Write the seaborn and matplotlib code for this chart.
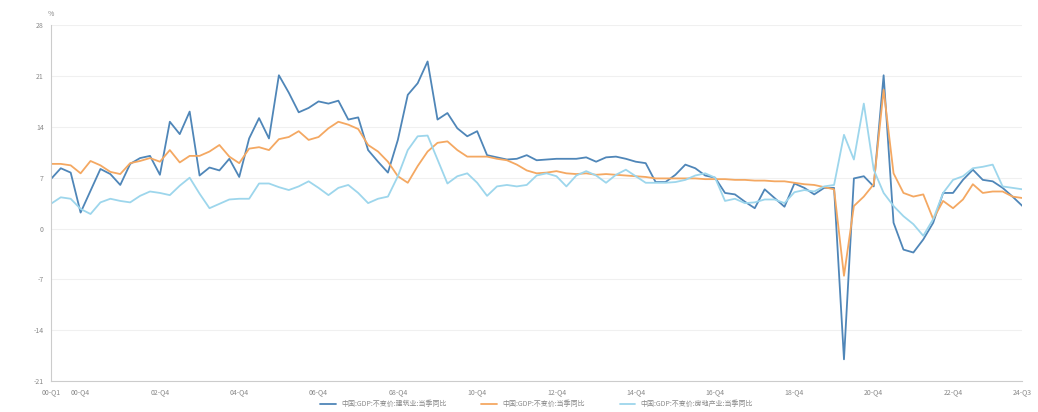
import numpy as np
import pandas as pd
import matplotlib
matplotlib.use('Agg')
import matplotlib.pyplot as plt
import seaborn as sns

# quarters 2000Q1 .. 2024Q3
quarters = ['%02d-Q%d' % (y % 100, q) for y in range(2000, 2025) for q in range(1, 5)][:99]

construction = [6.8, 8.3, 7.7, 2.2, 5.2, 8.2, 7.5, 6.0, 8.9, 9.7,
                10.0, 7.4, 14.7, 13.0, 16.1, 7.3, 8.4, 8.0, 9.6, 7.1,
                12.4, 15.2, 12.4, 21.1, 18.7, 16.0, 16.6, 17.5, 17.2, 17.6,
                15.0, 15.3, 10.8, 9.2, 7.7, 12.2, 18.4, 20.0, 23.0, 15.0,
                15.9, 13.8, 12.7, 13.4, 10.1, 9.8, 9.5, 9.6, 10.1, 9.4,
                9.5, 9.6, 9.6, 9.6, 9.8, 9.2, 9.8, 9.9, 9.6, 9.2,
                9.0, 6.4, 6.4, 7.4, 8.8, 8.3, 7.3, 7.0, 4.9, 4.7,
                3.7, 2.8, 5.4, 4.2, 3.0, 6.2, 5.6, 4.7, 5.6, 5.6,
                -18.0, 6.9, 7.2, 5.8, 21.1, 0.8, -2.9, -3.3, -1.5, 0.8,
                4.9, 4.9, 6.7, 8.1, 6.7, 6.5, 5.6, 4.4, 3.1]

gdp = [8.9, 8.9, 8.7, 7.6, 9.3, 8.7, 7.8, 7.5, 9.0, 9.3,
       9.7, 9.2, 10.8, 9.1, 10.0, 10.0, 10.6, 11.5, 9.9, 9.0,
       11.0, 11.2, 10.8, 12.3, 12.6, 13.4, 12.2, 12.6, 13.8, 14.7,
       14.3, 13.7, 11.5, 10.6, 9.2, 7.2, 6.3, 8.6, 10.6, 11.8,
       12.0, 10.8, 9.9, 9.9, 9.9, 9.6, 9.4, 8.8, 8.0, 7.6,
       7.7, 7.9, 7.6, 7.5, 7.6, 7.4, 7.5, 7.4, 7.3, 7.2,
       7.1, 6.9, 6.9, 6.9, 6.9, 6.9, 6.8, 6.8, 6.8, 6.7,
       6.7, 6.6, 6.6, 6.5, 6.5, 6.3, 6.1, 6.0, 5.7, 5.4,
       -6.5, 3.1, 4.4, 6.1, 19.1, 7.6, 4.9, 4.4, 4.7, 1.3,
       3.8, 2.8, 4.0, 6.1, 4.9, 5.1, 5.1, 4.4, 4.2]

realestate = [3.4, 4.3, 4.1, 2.7, 2.0, 3.6, 4.1, 3.8, 3.6, 4.5,
              5.1, 4.9, 4.6, 5.9, 7.0, 4.8, 2.8, 3.4, 4.0, 4.1,
              4.1, 6.2, 6.2, 5.7, 5.3, 5.8, 6.5, 5.6, 4.6, 5.6,
              6.0, 4.9, 3.5, 4.1, 4.4, 7.2, 10.8, 12.7, 12.8, 9.5,
              6.2, 7.2, 7.6, 6.3, 4.5, 5.8, 6.0, 5.8, 6.0, 7.3,
              7.6, 7.2, 5.8, 7.3, 7.9, 7.3, 6.3, 7.4, 8.1, 7.2,
              6.3, 6.3, 6.3, 6.4, 6.7, 7.3, 7.6, 7.0, 3.8, 4.1,
              3.5, 3.6, 4.0, 4.0, 3.5, 5.0, 5.3, 5.1, 5.8, 6.0,
              12.9, 9.5, 17.2, 8.1, 4.9, 3.1, 1.7, 0.6, -1.0, 1.3,
              4.9, 6.7, 7.2, 8.3, 8.5, 8.8, 5.8, 5.6, 5.4]

names = ['中国:GDP:不变价:建筑业:当季同比',
         '中国:GDP:不变价:当季同比',
         '中国:GDP:不变价:房地产业:当季同比']
colors = ['#4f86b8', '#f4a862', '#9dd6ec']

tick_idx = [0] + list(range(3, 96, 8)) + [98]
y_ticks = [-21, -14, -7, 0, 7, 14, 21, 28]


def build_frame():
    frames = []
    for name, vals in zip(names, [construction, gdp, realestate]):
        frames.append(pd.DataFrame({'idx': np.arange(len(vals)),
                                    'value': vals, 'series': name}))
    return pd.concat(frames, ignore_index=True)


def main():
    sns.set_style('white')
    plt.rcParams['font.family'] = ['Noto Sans CJK SC', 'DejaVu Sans']
    df = build_frame()

    fig = plt.figure(figsize=(10.38, 4.12), dpi=100)
    ax = fig.add_axes([0.049, 0.075, 0.936, 0.864])
    sns.lineplot(data=df, x='idx', y='value', hue='series', palette=colors,
                 hue_order=names, linewidth=1.3, ax=ax)

    ax.set_xlim(0, 98)
    ax.set_ylim(-21, 28)
    ax.set_yticks(y_ticks)
    ax.set_yticklabels([str(t) for t in y_ticks])
    ax.set_xticks(tick_idx)
    ax.set_xticklabels([quarters[i] for i in tick_idx])
    ax.tick_params(axis='both', labelsize=5, colors='#888888', length=3, width=0.6,
                   pad=2)
    ax.grid(axis='y', color='#f0f0f0', linewidth=0.8)
    ax.set_axisbelow(True)
    for side in ['top', 'right']:
        ax.spines[side].set_visible(False)
    for side in ['left', 'bottom']:
        ax.spines[side].set_color('#cccccc')
        ax.spines[side].set_linewidth(0.8)
    ax.set_xlabel('')
    ax.set_ylabel('')
    ax.text(0.0, 1.02, '%', transform=ax.transAxes, fontsize=5,
            color='#888888', ha='center', va='bottom')

    ax.legend(loc='center', bbox_to_anchor=(0.5, -0.065), ncol=3,
              frameon=False, fontsize=5, handlelength=2.2, columnspacing=5,
              borderpad=0, labelcolor='#888888')

    fig.savefig('out.png', dpi=100)


if __name__ == '__main__':
    main()
